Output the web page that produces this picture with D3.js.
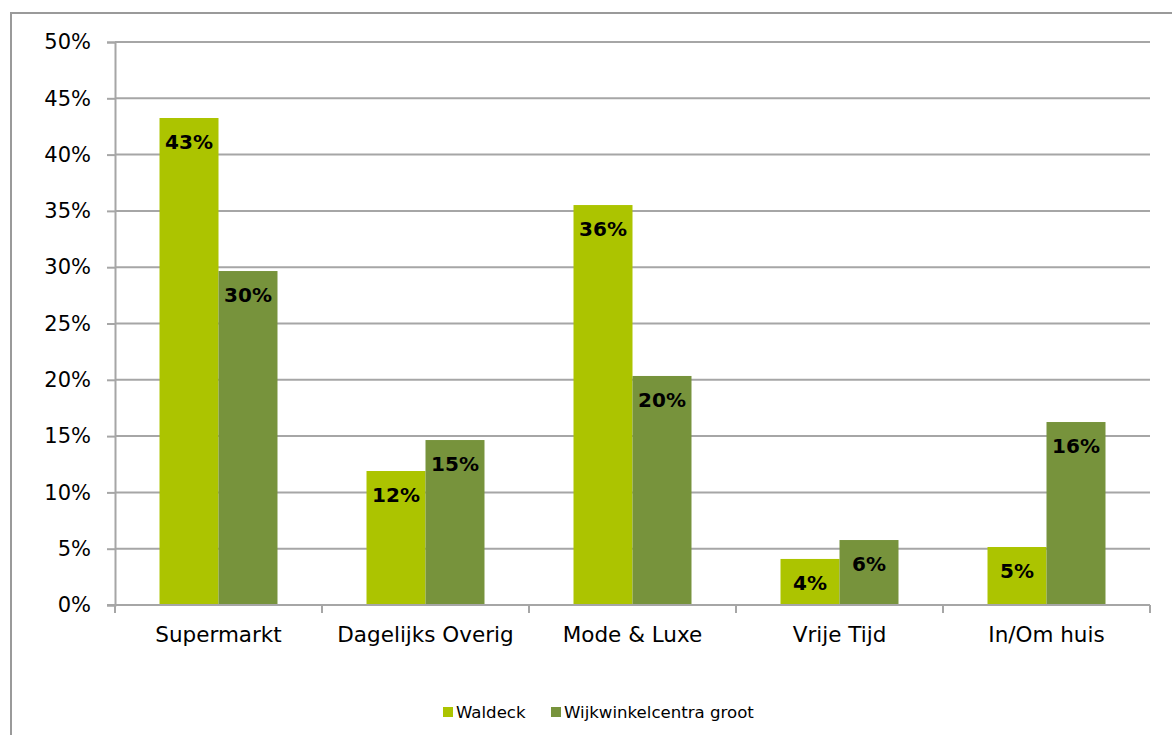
<!DOCTYPE html>
<html>
<head>
<meta charset="utf-8">
<script src="https://cdn.jsdelivr.net/npm/d3@7"></script>
<style>
  html, body { margin: 0; padding: 0; background: #fff; }
  svg { display: block; font-family: "DejaVu Sans", Verdana, sans-serif; }
</style>
</head>
<body>
<svg id="chart" width="1172" height="735"></svg>
<script>
// Share of shopping visits per branch group
const categories = ["Supermarkt", "Dagelijks Overig", "Mode & Luxe", "Vrije Tijd", "In/Om huis"];
const seriesNames = ["Waldeck", "Wijkwinkelcentra groot"];
const waldeck = [0.4325, 0.119, 0.3552, 0.0409, 0.0515];
const wijkwinkelcentraGroot = [0.2966, 0.1465, 0.2034, 0.0577, 0.1625];
const yTicks = [0, 0.05, 0.10, 0.15, 0.20, 0.25, 0.30, 0.35, 0.40, 0.45, 0.50];
const colors = ["#acc400", "#77933c"];

const svg = d3.select("#chart");
const W = 1172, H = 735;
const plot = { left: 115, right: 1150, top: 42, bottom: 605 };

// Outer frame of the chart area
svg.append("path")
  .attr("d", `M11,${H} V13 H${W}`)
  .attr("fill", "none")
  .attr("stroke", "#9a9a9a")
  .attr("stroke-width", 2);

const x = d3.scaleBand()
  .domain(categories)
  .range([plot.left, plot.right])
  .paddingInner(0.43)
  .paddingOuter(0.215);

const xSub = d3.scaleBand()
  .domain(seriesNames)
  .range([0, x.bandwidth()]);

const y = d3.scaleLinear()
  .domain([0, 0.5])
  .range([plot.bottom, plot.top]);

// Horizontal gridlines
svg.append("g")
  .selectAll("line")
  .data(yTicks.filter(d => d > 0))
  .join("line")
  .attr("x1", plot.left).attr("x2", plot.right)
  .attr("y1", d => y(d)).attr("y2", d => y(d))
  .attr("stroke", "#a6a6a6")
  .attr("stroke-width", 2);

// Y axis
const yAxis = svg.append("g")
  .attr("transform", `translate(${plot.left},0)`)
  .call(d3.axisLeft(y).tickValues(yTicks).tickFormat(d3.format(".0%")).tickSize(8).tickPadding(16));
yAxis.select(".domain").attr("stroke", "#a6a6a6").attr("stroke-width", 2);
yAxis.selectAll(".tick line").attr("stroke", "#a6a6a6").attr("stroke-width", 2);
yAxis.selectAll(".tick text")
  .attr("font-size", 21)
  .attr("font-family", "DejaVu Sans, Verdana, sans-serif")
  .attr("fill", "#000");

// Bars
const rows = categories.map((c, i) => ({
  category: c,
  values: [
    { series: seriesNames[0], value: waldeck[i], color: colors[0] },
    { series: seriesNames[1], value: wijkwinkelcentraGroot[i], color: colors[1] }
  ]
}));

const groups = svg.append("g")
  .selectAll("g")
  .data(rows)
  .join("g")
  .attr("transform", d => `translate(${x(d.category)},0)`);

groups.selectAll("rect")
  .data(d => d.values)
  .join("rect")
  .attr("x", d => xSub(d.series))
  .attr("width", xSub.bandwidth())
  .attr("y", d => y(d.value))
  .attr("height", d => y(0) - y(d.value))
  .attr("fill", d => d.color);

groups.selectAll("text")
  .data(d => d.values)
  .join("text")
  .attr("x", d => xSub(d.series) + xSub.bandwidth() / 2)
  .attr("y", d => y(d.value) + 24)
  .attr("dy", "0.36em")
  .attr("text-anchor", "middle")
  .attr("font-size", 20)
  .attr("font-weight", "bold")
  .attr("fill", "#000")
  .text(d => d3.format(".0%")(d.value));

// X axis with separators between categories
const xAxisG = svg.append("g").attr("transform", `translate(0,${plot.bottom})`);
xAxisG.append("line")
  .attr("x1", plot.left - 8).attr("x2", plot.right)
  .attr("stroke", "#a6a6a6").attr("stroke-width", 2);
const step = x.step();
const separators = d3.range(categories.length + 1).map(i => plot.left + i * step);
xAxisG.selectAll("line.sep")
  .data(separators)
  .join("line")
  .attr("class", "sep")
  .attr("x1", d => d).attr("x2", d => d)
  .attr("y1", 0).attr("y2", 8)
  .attr("stroke", "#a6a6a6").attr("stroke-width", 2);
xAxisG.selectAll("text")
  .data(categories)
  .join("text")
  .attr("x", d => x(d) + x.bandwidth() / 2)
  .attr("y", 37)
  .attr("text-anchor", "middle")
  .attr("font-size", 21.5)
  .attr("fill", "#000")
  .text(d => d);

// Legend
const legendItems = [
  { name: seriesNames[0], color: colors[0], x: 443 },
  { name: seriesNames[1], color: colors[1], x: 551 }
];
const legend = svg.append("g");
legend.selectAll("rect")
  .data(legendItems)
  .join("rect")
  .attr("x", d => d.x).attr("y", 707)
  .attr("width", 10).attr("height", 10)
  .attr("fill", d => d.color);
legend.selectAll("text")
  .data(legendItems)
  .join("text")
  .attr("x", d => d.x + 13).attr("y", 718)
  .attr("font-size", 16.6)
  .attr("fill", "#000")
  .text(d => d.name);
</script>
</body>
</html>
